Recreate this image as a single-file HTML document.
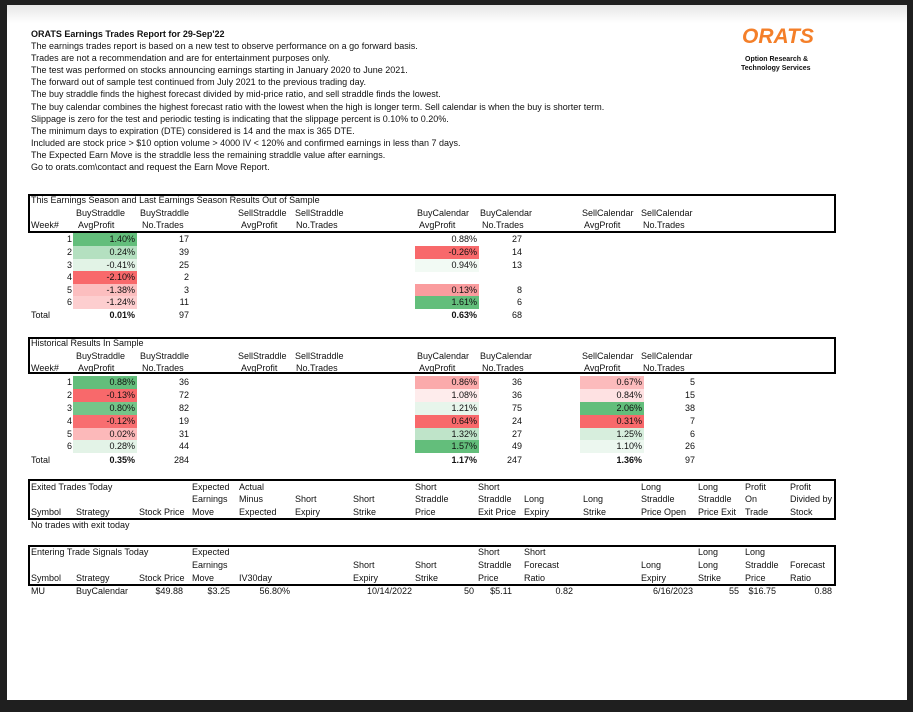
<!DOCTYPE html>
<html><head><meta charset="utf-8">
<style>
html,body{margin:0;padding:0;}
body{width:913px;height:712px;background:#1f1f1f;position:relative;overflow:hidden;font-family:"Liberation Sans",sans-serif;color:#111;}
#page{position:absolute;left:7px;top:5px;width:900px;height:695px;background:#fff;}
#band{position:absolute;left:7px;top:5px;width:900px;height:18px;background:linear-gradient(#e6e6e6,#fff);}
.t{position:absolute;font-size:9px;line-height:10px;white-space:nowrap;}
.r{text-align:right;}
.b{font-weight:bold;}
.box{position:absolute;border:2px solid #000;box-sizing:border-box;}
.cell{position:absolute;}
</style></head>
<body>
<div id="page"></div>
<div id="band"></div>
<div id="root"></div>
<div class="t b" style="left:742px;top:26px;font-size:21px;line-height:22px;color:#f47f29;font-style:italic;letter-spacing:0px;">ORATS</div>
<div class="t b" style="left:745px;top:55px;font-size:7px;line-height:9px;">Option Research &amp;</div>
<div class="t b" style="left:741px;top:64px;font-size:7px;line-height:9px;">Technology Services</div>
<script>
const weeks=[1,2,3,4,5,6];
const t1BuyStraddleProfit=[1.40,0.24,-0.41,-2.10,-1.38,-1.24];
const t1BuyStraddleTrades=[17,39,25,2,3,11];
const t1BuyCalProfit=[0.88,-0.26,0.94,null,0.13,1.61];
const t1BuyCalTrades=[27,14,13,null,8,6];
const t1Totals=["0.01%","97","0.63%","68"];
const t2BuyStraddleProfit=[0.88,-0.13,0.80,-0.12,0.02,0.28];
const t2BuyStraddleTrades=[36,72,82,19,31,44];
const t2BuyCalProfit=[0.86,1.08,1.21,0.64,1.32,1.57];
const t2BuyCalTrades=[36,36,75,24,27,49];
const t2SellCalProfit=[0.67,0.84,2.06,0.31,1.25,1.10];
const t2SellCalTrades=[5,15,38,7,6,26];
const t2Totals=["0.35%","284","1.17%","247","1.36%","97"];
const introLines=["The earnings trades report is based on a new test to observe performance on a go forward basis.","Trades are not a recommendation and are for entertainment purposes only.","The test was performed on stocks announcing earnings starting in January 2020 to June 2021.","The forward out of sample test continued from July 2021 to the previous trading day.","The buy straddle finds the highest forecast divided by mid-price ratio, and sell straddle finds the lowest.","The buy calendar combines the highest forecast ratio with the lowest when the high is longer term. Sell calendar is when the buy is shorter term.","Slippage is zero for the test and periodic testing is indicating that the slippage percent is 0.10% to 0.20%.","The minimum days to expiration (DTE) considered is 14 and the max is 365 DTE.","Included are stock price > $10 option volume > 4000 IV < 120% and confirmed earnings in less than 7 days.","The Expected Earn Move is the straddle less the remaining straddle value after earnings.","Go to orats.com\\contact and request the Earn Move Report."];
const root=document.getElementById('root');
function t(x,y,s,name,cls,w){
  const el=document.createElement('div');
  el.className='t '+(cls||'');
  
  
  el.textContent=s;
  if(cls&&cls.indexOf('r')>=0){el.style.left=(x-(w||80))+'px';el.style.width=(w||80)+'px';}
  else el.style.left=x+'px';
  el.style.top=(y-5)+'px';
  root.appendChild(el);return el;
}
function box(x,y,w,h,name){
  const el=document.createElement('div');el.className='box';
  
  
  el.style.cssText=`left:${x}px;top:${y}px;width:${w}px;height:${h}px`;
  root.appendChild(el);
}
function median(a){const s=a.filter(v=>v!=null).slice().sort((p,q)=>p-q);const n=s.length;return n%2?s[(n-1)/2]:(s[n/2-1]+s[n/2])/2;}
function mix(c,f){return 'rgb('+c.map(v=>Math.round(255+(v-255)*f)).join(',')+')';}
function colorFor(v,arr){
  const vals=arr.filter(x=>x!=null);const mn=Math.min(...vals),mx=Math.max(...vals),md=median(arr);
  if(v>=md) return mix([99,190,123],mx===md?0:(v-md)/(mx-md));
  return mix([248,105,107],(md-v)/(md-mn));
}
function heat(x,yc,v,arr,name){
  const el=document.createElement('div');el.className='cell';
  
  
  el.style.cssText=`left:${x}px;top:${yc-6}px;width:64px;height:12.5px;background:${colorFor(v,arr)}`;
  root.appendChild(el);
  t(x+62,yc,v.toFixed(2)+'%',name+'-value','r',60);
}
t(31,34,"ORATS Earnings Trades Report for 29-Sep'22",'report-title','b');
introLines.forEach((s,i)=>t(31,46+i*12.1,s,'intro-line-'+(i+1)));
box(28,194,808,39,'table1-header-box');
t(31,200,'This Earnings Season and Last Earnings Season Results Out of Sample','table1-title');
const hdr=[[76,'BuyStraddle','AvgProfit',78],[140,'BuyStraddle','No.Trades',142],[238,'SellStraddle','AvgProfit',241],[295,'SellStraddle','No.Trades',296],[417,'BuyCalendar','AvgProfit',419],[480,'BuyCalendar','No.Trades',482],[582,'SellCalendar','AvgProfit',584],[641,'SellCalendar','No.Trades',643]];
function headers(y0,p){hdr.forEach((h,i)=>{t(h[0],y0,h[1],p+'-header-'+i+'-a');t(h[3],y0+12,h[2],p+'-header-'+i+'-b');});t(31,y0+12,'Week#',p+'-header-week');}
headers(213,'table1');
const r1=[239,252,265,277,290,302];
weeks.forEach((w,i)=>{
  const y=r1[i];
  t(72,y,String(w),'table1-week-'+w,'r',30);
  heat(73,y,t1BuyStraddleProfit[i],t1BuyStraddleProfit,'table1-buystraddle-profit-w'+w);
  t(189,y,String(t1BuyStraddleTrades[i]),'table1-buystraddle-trades-w'+w,'r',40);
  if(t1BuyCalProfit[i]!=null){
    heat(415,y,t1BuyCalProfit[i],t1BuyCalProfit,'table1-buycal-profit-w'+w);
    t(522,y,String(t1BuyCalTrades[i]),'table1-buycal-trades-w'+w,'r',40);
  }
});
t(31,315,'Total','table1-total-label');
t(135,315,t1Totals[0],'table1-total-bs-profit','r b',60);
t(189,315,t1Totals[1],'table1-total-bs-trades','r',40);
t(477,315,t1Totals[2],'table1-total-bc-profit','r b',60);
t(522,315,t1Totals[3],'table1-total-bc-trades','r',40);
box(28,337,808,37,'table2-header-box');
t(31,343,'Historical Results In Sample','table2-title');
headers(356,'table2');
const r2=[382,395,408,421,434,446];
weeks.forEach((w,i)=>{
  const y=r2[i];
  t(72,y,String(w),'table2-week-'+w,'r',30);
  heat(73,y,t2BuyStraddleProfit[i],t2BuyStraddleProfit,'table2-buystraddle-profit-w'+w);
  t(189,y,String(t2BuyStraddleTrades[i]),'table2-buystraddle-trades-w'+w,'r',40);
  heat(415,y,t2BuyCalProfit[i],t2BuyCalProfit,'table2-buycal-profit-w'+w);
  t(522,y,String(t2BuyCalTrades[i]),'table2-buycal-trades-w'+w,'r',40);
  heat(580,y,t2SellCalProfit[i],t2SellCalProfit,'table2-sellcal-profit-w'+w);
  t(695,y,String(t2SellCalTrades[i]),'table2-sellcal-trades-w'+w,'r',40);
});
t(31,460,'Total','table2-total-label');
t(135,460,t2Totals[0],'table2-total-bs-profit','r b',60);
t(189,460,t2Totals[1],'table2-total-bs-trades','r',40);
t(477,460,t2Totals[2],'table2-total-bc-profit','r b',60);
t(522,460,t2Totals[3],'table2-total-bc-trades','r',40);
t(642,460,t2Totals[4],'table2-total-sc-profit','r b',60);
t(695,460,t2Totals[5],'table2-total-sc-trades','r',40);
box(28,479,808,41,'table3-header-box');
const h3=[[31,['Exited Trades Today','','Symbol']],[76,['','','Strategy']],[139,['','','Stock Price']],[192,['Expected','Earnings','Move']],[239,['Actual','Minus','Expected']],[295,['','Short','Expiry']],[353,['','Short','Strike']],[415,['Short','Straddle','Price']],[478,['Short','Straddle','Exit Price']],[524,['','Long','Expiry']],[583,['','Long','Strike']],[641,['Long','Straddle','Price Open']],[698,['Long','Straddle','Price Exit']],[745,['Profit','On','Trade']],[790,['Profit','Divided by','Stock']]];
h3.forEach((c,i)=>c[1].forEach((s,j)=>{if(s)t(c[0],487+j*12.3,s,'table3-header-'+i+'-'+j);}));
t(31,525,'No trades with exit today','table3-no-trades');
box(28,545,808,41,'table4-header-box');
const h4=[[31,['Entering Trade Signals Today','','Symbol']],[76,['','','Strategy']],[139,['','','Stock Price']],[192,['Expected','Earnings','Move']],[239,['','','IV30day']],[353,['','Short','Expiry']],[415,['','Short','Strike']],[478,['Short','Straddle','Price']],[524,['Short','Forecast','Ratio']],[641,['','Long','Expiry']],[698,['Long','Long','Strike']],[745,['Long','Straddle','Price']],[790,['','Forecast','Ratio']]];
h4.forEach((c,i)=>c[1].forEach((s,j)=>{if(s)t(c[0],552+j*12.8,s,'table4-header-'+i+'-'+j);}));
t(31,591,'MU','signal-symbol');t(76,591,'BuyCalendar','signal-strategy');
[[183,'$49.88'],[230,'$3.25'],[290,'56.80%'],[412,'10/14/2022'],[474,'50'],[512,'$5.11'],[573,'0.82'],[693,'6/16/2023'],[739,'55'],[776,'$16.75'],[832,'0.88']].forEach((c,i)=>t(c[0],591,c[1],'signal-value-'+i,'r',70));
</script>
</body></html>
